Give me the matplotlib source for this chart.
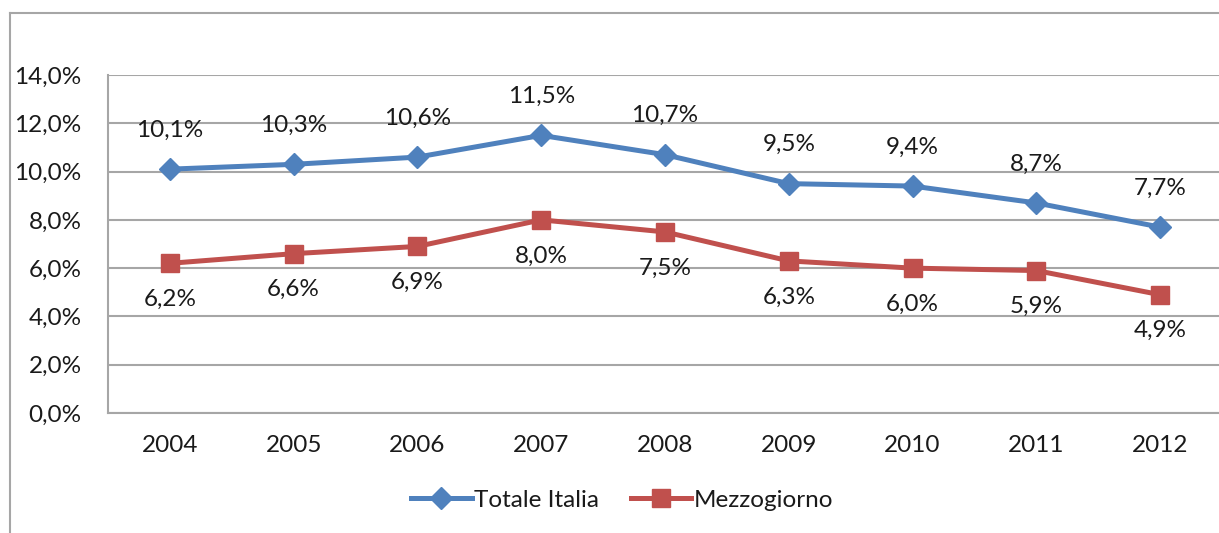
import matplotlib
matplotlib.use("Agg")
import matplotlib.pyplot as plt
from matplotlib.lines import Line2D

years = ["2004", "2005", "2006", "2007", "2008", "2009", "2010", "2011", "2012"]
totale_italia = [10.1, 10.3, 10.6, 11.5, 10.7, 9.5, 9.4, 8.7, 7.7]
mezzogiorno = [6.2, 6.6, 6.9, 8.0, 7.5, 6.3, 6.0, 5.9, 4.9]
yticks = [0, 2, 4, 6, 8, 10, 12, 14]

plt.rcParams['font.family'] = ['Lato', 'DejaVu Sans']

BLUE = '#4F81BD'
RED = '#C0504D'
GRID = '#A6A6A6'
TXT = '#1A1A1A'
FS = 17.5


def fmt(v):
    return ("%.1f%%" % v).replace('.', ',')


fig = plt.figure(figsize=(12.19, 5.33), dpi=100)
ax = fig.add_axes([108 / 1219, 1 - 413 / 533, (1222 - 108) / 1219, (413 - 75) / 533])

x = list(range(len(years)))
ax.plot(x, totale_italia, color=BLUE, lw=3.6, marker='D', ms=11,
        label='Totale Italia', zorder=3)
ax.plot(x, mezzogiorno, color=RED, lw=3.6, marker='s', ms=13,
        label='Mezzogiorno', zorder=3)

for i, v in enumerate(totale_italia):
    ax.annotate(fmt(v), (i, v), xytext=(0, 28), textcoords='offset points',
                ha='center', va='center', fontsize=FS, color=TXT)
for i, v in enumerate(mezzogiorno):
    ax.annotate(fmt(v), (i, v), xytext=(0, -26), textcoords='offset points',
                ha='center', va='center', fontsize=FS, color=TXT)

ax.set_xlim(-0.5, len(years) - 0.5)
ax.set_ylim(0, 14)
ax.set_xticks(x)
ax.set_xticklabels(years)
ax.set_yticks(yticks)
ax.set_yticklabels([fmt(t) for t in yticks])
ax.tick_params(axis='both', length=0, labelsize=FS, colors=TXT)
ax.tick_params(axis='x', pad=16)
ax.tick_params(axis='y', pad=19)
ax.grid(axis='y', color=GRID, lw=1.5)
ax.set_axisbelow(True)
for s in ['top', 'right']:
    ax.spines[s].set_visible(False)
for s in ['left', 'bottom']:
    ax.spines[s].set_color(GRID)
    ax.spines[s].set_linewidth(1.5)

fig.legend(loc='center', bbox_to_anchor=(622 / 1219, 1 - 500 / 533), ncol=2,
           frameon=False, fontsize=FS, handlelength=2.5, handletextpad=0.1,
           columnspacing=1.3, labelcolor=TXT)

# outer chart frame (cropped at right and bottom)
fig.add_artist(Line2D([10 / 1219, 1.0], [1 - 13 / 533, 1 - 13 / 533],
                      transform=fig.transFigure, color=GRID, lw=1.5))
fig.add_artist(Line2D([10 / 1219, 10 / 1219], [0, 1 - 13 / 533],
                      transform=fig.transFigure, color=GRID, lw=1.5))

fig.savefig("out.png", dpi=100)
